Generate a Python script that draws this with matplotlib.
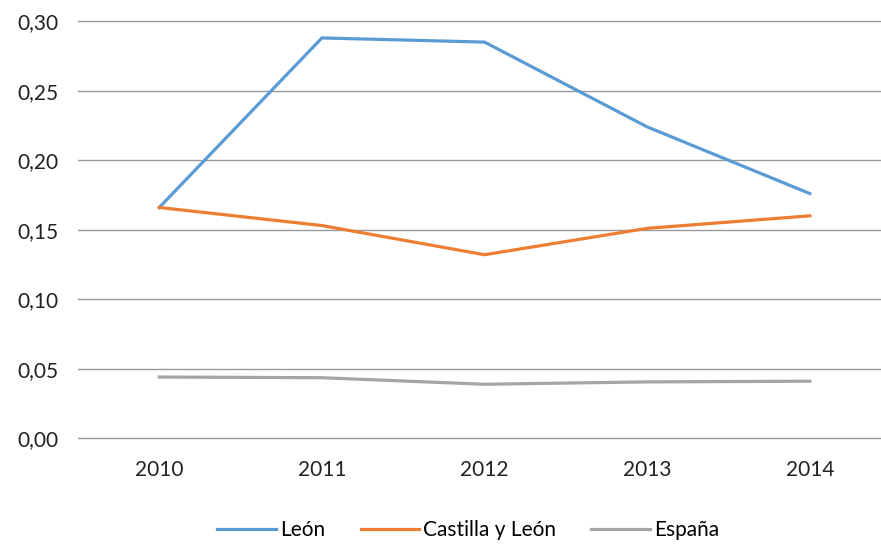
import matplotlib.pyplot as plt

years = ['2010', '2011', '2012', '2013', '2014']
leon = [0.166, 0.288, 0.285, 0.224, 0.176]
castilla = [0.166, 0.153, 0.132, 0.151, 0.160]
espana = [0.044, 0.0435, 0.0388, 0.0405, 0.041]

plt.rcParams['font.family'] = ['Lato', 'DejaVu Sans']

fig = plt.figure(figsize=(8.81, 5.45), dpi=100)
ax = fig.add_axes([0.0885, 0.196, 0.923, 0.765])

x = range(len(years))
ax.plot(x, leon, color='#5B9BD5', lw=2.3, label='León')
ax.plot(x, castilla, color='#ED7D31', lw=2.3, label='Castilla y León')
ax.plot(x, espana, color='#A5A5A5', lw=2.3, label='España')

ax.set_xlim(-0.5, len(years) - 0.5)
ax.set_ylim(0, 0.30)
ax.set_yticks([0, 0.05, 0.10, 0.15, 0.20, 0.25, 0.30])
ax.set_yticklabels([f'{v:.2f}'.replace('.', ',') for v in ax.get_yticks()])
ax.set_xticks(list(x))
ax.set_xticklabels(years)
ax.grid(axis='y', color='#9a9a9a', lw=1)
for gl in ax.get_ygridlines():
    gl.set_clip_on(False)
ax.set_axisbelow(True)
for s in ax.spines.values():
    s.set_visible(False)
ax.tick_params(length=0, labelsize=15, colors='#222222')
ax.tick_params(axis='y', pad=14)
ax.tick_params(axis='x', pad=16)

ax.legend(loc='center', bbox_to_anchor=(0.48, -0.22), ncol=3, frameon=False,
          fontsize=15, handlelength=2.8, handletextpad=0.2, columnspacing=1.7)

plt.savefig('out.png', dpi=100)
